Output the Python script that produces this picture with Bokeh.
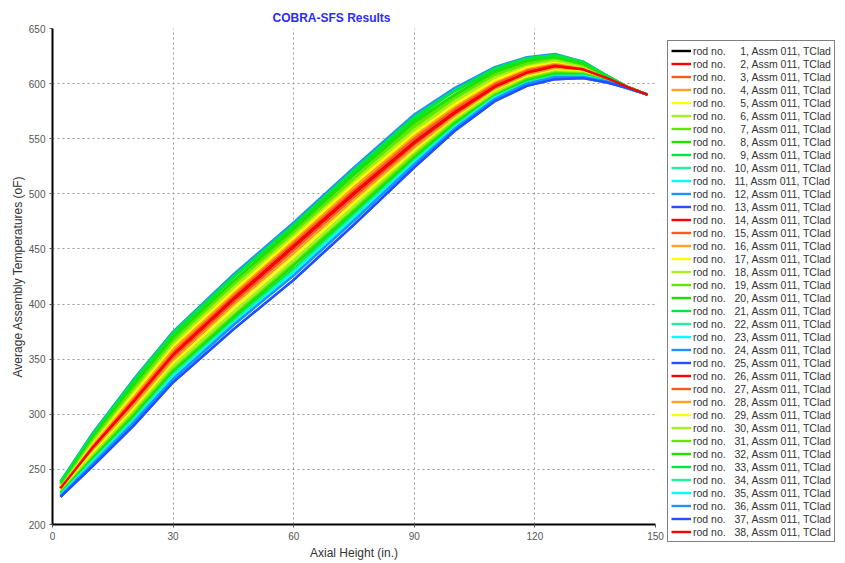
from bokeh.plotting import figure
from bokeh.models import Legend, LegendItem, Range1d, FixedTicker
from bokeh.embed import file_html
from bokeh.resources import INLINE

# ---------------- data ----------------
axial_height = [2, 10, 20, 30, 45, 60, 75, 90, 100, 110, 118, 125, 132, 138, 143, 148]

rod01 = [233, 270, 311, 354, 404, 452, 500, 546, 573, 597, 610, 616, 613, 605, 597, 590]
rod02 = [233, 270, 311, 354, 404, 452, 500, 546, 573, 597, 610, 616, 613, 605, 597, 590]
rod03 = [234, 272, 313, 357, 407, 455, 503, 549, 576, 599, 612, 617, 614, 605, 597, 590]
rod04 = [234, 273, 315, 358, 409, 456, 505, 551, 578, 601, 613, 618, 614, 605, 597, 590]
rod05 = [235, 274, 317, 360, 411, 459, 507, 554, 580, 602, 614, 619, 615, 606, 597, 590]
rod06 = [236, 275, 319, 363, 414, 461, 510, 557, 583, 605, 616, 621, 616, 606, 597, 590]
rod07 = [236, 277, 322, 366, 417, 464, 513, 560, 586, 607, 618, 622, 617, 606, 597, 590]
rod08 = [237, 279, 325, 369, 420, 467, 517, 564, 589, 610, 620, 624, 618, 606, 597, 590]
rod09 = [238, 281, 328, 372, 424, 471, 520, 568, 593, 612, 622, 625, 619, 607, 597, 590]
rod10 = [227, 258, 295, 336, 384, 430, 480, 530, 561, 588, 601, 607, 607, 602, 596, 590]
rod11 = [227, 256, 293, 334, 382, 428, 478, 528, 560, 587, 600, 606, 607, 602, 596, 590]
rod12 = [239, 283, 331, 375, 427, 474, 524, 572, 596, 615, 624, 627, 620, 607, 597, 590]
rod13 = [233, 271, 312, 355, 405, 453, 501, 548, 574, 598, 611, 617, 613, 605, 597, 590]
rod14 = [233, 270, 311, 354, 404, 452, 500, 546, 573, 597, 610, 616, 613, 605, 597, 590]
rod15 = [232, 268, 309, 351, 401, 449, 497, 544, 571, 596, 609, 615, 612, 605, 597, 590]
rod16 = [231, 267, 307, 349, 399, 446, 494, 542, 570, 594, 608, 614, 611, 604, 597, 590]
rod17 = [231, 265, 304, 346, 396, 443, 492, 539, 568, 593, 606, 612, 611, 604, 597, 590]
rod18 = [230, 263, 302, 344, 393, 440, 489, 537, 567, 592, 605, 611, 610, 603, 597, 590]
rod19 = [229, 261, 300, 341, 390, 437, 486, 535, 565, 590, 604, 610, 609, 603, 597, 590]
rod20 = [228, 260, 298, 339, 388, 435, 484, 533, 564, 589, 603, 609, 608, 603, 596, 590]
rod21 = [228, 259, 296, 337, 386, 432, 482, 531, 562, 588, 602, 608, 608, 602, 596, 590]
rod22 = [227, 258, 295, 336, 384, 430, 480, 530, 561, 588, 601, 607, 607, 602, 596, 590]
rod23 = [227, 256, 293, 334, 382, 428, 478, 528, 560, 587, 600, 606, 607, 602, 596, 590]
rod24 = [226, 255, 292, 332, 381, 426, 476, 527, 559, 586, 600, 606, 606, 602, 596, 590]
rod25 = [225, 253, 289, 329, 377, 422, 472, 524, 557, 584, 598, 604, 605, 601, 596, 590]
rod26 = [233, 270, 312, 355, 405, 453, 501, 547, 574, 598, 610, 616, 613, 605, 597, 590]
rod27 = [234, 272, 314, 357, 408, 456, 504, 550, 577, 600, 612, 618, 614, 605, 597, 590]
rod28 = [235, 273, 316, 359, 410, 458, 506, 553, 579, 602, 614, 619, 615, 606, 597, 590]
rod29 = [235, 275, 318, 362, 412, 460, 509, 555, 581, 603, 615, 620, 616, 606, 597, 590]
rod30 = [236, 276, 321, 364, 415, 463, 512, 558, 584, 606, 617, 621, 616, 606, 597, 590]
rod31 = [237, 278, 323, 367, 418, 465, 514, 562, 587, 608, 618, 623, 617, 606, 597, 590]
rod32 = [238, 280, 326, 370, 421, 469, 518, 566, 590, 611, 621, 624, 618, 607, 597, 590]
rod33 = [239, 282, 330, 374, 425, 472, 522, 570, 594, 614, 623, 626, 620, 607, 597, 590]
rod34 = [227, 258, 295, 336, 384, 430, 480, 530, 561, 588, 601, 607, 607, 602, 596, 590]
rod35 = [227, 256, 293, 334, 382, 428, 478, 528, 560, 587, 600, 606, 607, 602, 596, 590]
rod36 = [226, 255, 292, 332, 381, 426, 476, 527, 559, 586, 600, 606, 606, 602, 596, 590]
rod37 = [225, 253, 289, 329, 377, 422, 472, 524, 557, 584, 598, 604, 605, 601, 596, 590]
rod38 = [233, 270, 311, 354, 404, 452, 500, 546, 573, 597, 610, 616, 613, 605, 597, 590]

rod_temps = [rod01, rod02, rod03, rod04, rod05, rod06, rod07, rod08, rod09, rod10,
             rod11, rod12, rod13, rod14, rod15, rod16, rod17, rod18, rod19, rod20,
             rod21, rod22, rod23, rod24, rod25, rod26, rod27, rod28, rod29, rod30,
             rod31, rod32, rod33, rod34, rod35, rod36, rod37, rod38]

rod_numbers = list(range(1, 39))
color_cycle = ["#FF0000", "#FF5A1E", "#FFA020", "#FFFF00", "#A8F020", "#60E800",
               "#20E000", "#00E840", "#20F0A0", "#00FFFF", "#1E90FF", "#2050FF"]
rod_colors = ["#000000"] + color_cycle * 3 + ["#FF0000"]

x_ticks = [0, 30, 60, 90, 120, 150]
y_ticks = [200, 250, 300, 350, 400, 450, 500, 550, 600, 650]

FONT = "Liberation Sans"

# ---------------- figure ----------------
p = figure(frame_width=603, frame_height=496, output_backend="svg",
           toolbar_location=None,
           x_range=Range1d(0, 150), y_range=Range1d(200, 650),
           min_border_left=52, min_border_right=0, min_border_top=28,
           min_border_bottom=39)
p.outline_line_color = None
p.background_fill_color = "white"
p.border_fill_color = "white"

p.title.text = "COBRA-SFS Results"
p.title.text_color = "#2B2BFF"
p.title.text_font = FONT
p.title.text_font_size = "12px"
p.title.text_font_style = "bold"
p.title.align = "left"
p.title.offset = 220
p.title.standoff = 8

for ax in (p.xaxis[0], p.yaxis[0]):
    ax.axis_line_color = "black"
    ax.axis_line_width = 2
    ax.major_tick_line_color = "#555555"
    ax.major_tick_out = 3
    ax.major_tick_in = 0
    ax.minor_tick_line_color = None
    ax.major_label_text_font = FONT
    ax.major_label_text_font_size = "10px"
    ax.major_label_text_color = "#555555"
    ax.axis_label_text_font = FONT
    ax.axis_label_text_font_size = "12px"
    ax.axis_label_text_font_style = "normal"
    ax.axis_label_text_color = "#333333"
    ax.major_label_standoff = 4

p.xaxis.ticker = FixedTicker(ticks=x_ticks)
p.yaxis.ticker = FixedTicker(ticks=y_ticks)
p.xaxis.axis_label = "Axial Height (in.)"
p.yaxis.axis_label = "Average Assembly Temperatures (oF)"
p.xaxis.axis_label_standoff = 3
p.yaxis.axis_label_standoff = 1

p.xgrid.ticker = FixedTicker(ticks=x_ticks)
p.ygrid.ticker = FixedTicker(ticks=y_ticks)
for g in (p.xgrid[0], p.ygrid[0]):
    g.grid_line_color = "#999999"
    g.grid_line_dash = "2 3"
    g.grid_line_width = 1

items = []
for n, temps, col in zip(rod_numbers, rod_temps, rod_colors):
    r = p.line(axial_height, temps, line_color=col, line_width=2.4)
    pad = "\u00a0\u00a0\u00a0" + ("\u2007" if n < 10 else "")
    items.append(LegendItem(label=f"rod no.{pad}{n}, Assm 011, TClad", renderers=[r]))

lg = Legend(items=items, location="top_left", orientation="vertical")
lg.glyph_width = 20
lg.glyph_height = 13
lg.label_height = 13
lg.spacing = 0
lg.padding = 3
lg.margin = 12
lg.label_standoff = 2
lg.label_text_font = FONT
lg.label_text_font_size = "10.5px"
lg.label_text_color = "#333333"
lg.border_line_color = "black"
lg.border_line_width = 1
lg.background_fill_color = "white"
lg.background_fill_alpha = 1.0
p.add_layout(lg, "right")

open("out.html", "w").write(file_html(p, INLINE))
